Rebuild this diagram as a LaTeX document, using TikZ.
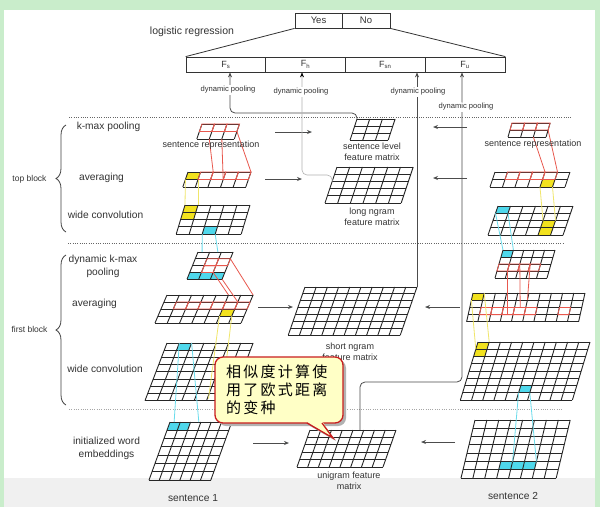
\documentclass[tikz,border=0pt]{standalone}
\usepackage{fontspec}
\setmainfont{Liberation Sans}
\newfontfamily\cjkfont[LetterSpace=15]{Noto Sans CJK SC}
\usetikzlibrary{arrows.meta,decorations.pathreplacing,calc}
\definecolor{ycell}{HTML}{F2E21E}
\definecolor{ccell}{HTML}{4FD8EC}
\definecolor{rline}{HTML}{E8584E}
\definecolor{yline}{HTML}{F0E66A}
\definecolor{cline}{HTML}{6ADCEC}
\definecolor{bgreen}{HTML}{C9EDCB}
\definecolor{callfill}{HTML}{FFFFC6}
\definecolor{callrim}{HTML}{C81E1E}
\definecolor{txt}{HTML}{333333}
\newcommand\mkgrid[8]{%
  \foreach \i in {0,...,#4}{\foreach \j in {0,...,#5}{%
    \coordinate (#1-\i-\j) at ({#2+\i*#6-\j*#8},{#3+\j*#7});}}}
\newcommand\glines[3]{%
  \foreach \i in {0,...,#2}{\draw[gridl] (#1-\i-0) -- (#1-\i-#3);}%
  \foreach \j in {0,...,#3}{\draw[gridl] (#1-0-\j) -- (#1-#2-\j);}}
\newcommand\gcell[4]{%
  \pgfmathtruncatemacro\gIa{#3+1}\pgfmathtruncatemacro\gJa{#4+1}%
  \fill[#1] (#2-#3-#4) -- (#2-\gIa-#4) -- (#2-\gIa-\gJa) -- (#2-#3-\gJa) -- cycle;}
\newcommand\rcell[3]{%
  \pgfmathtruncatemacro\gIa{#2+1}\pgfmathtruncatemacro\gJa{#3+1}%
  \draw[redl] (#1-#2-#3) -- (#1-\gIa-#3) -- (#1-\gIa-\gJa) -- (#1-#2-\gJa) -- cycle;}
\tikzset{
  gridl/.style={draw=black!85, line width=0.9pt},
  redl/.style={draw=rline, line width=0.8pt},
  yl/.style={draw=yline, line width=0.8pt},
  cl/.style={draw=cline, line width=0.8pt},
  lab/.style={font=\fontsize{10.2}{13}\selectfont, text=txt, inner sep=0pt},
  labs/.style={font=\fontsize{8.5}{10}\selectfont, text=txt, inner sep=0pt},
  mid/.style={font=\fontsize{9}{11}\selectfont, text=txt, inner sep=0pt, align=center},
  dpl/.style={font=\fontsize{7.6}{9}\selectfont, text=txt, fill=white, inner sep=1pt},
  fbox/.style={draw=black!80, line width=0.8pt, minimum width=79.75pt, minimum height=15pt, inner sep=0pt, font=\fontsize{9}{10}\selectfont, text=txt},
  ynbox/.style={draw=black!80, line width=0.8pt, minimum height=15pt, inner sep=0pt, font=\fontsize{9.5}{10}\selectfont, text=txt},
  gar/.style={draw=black!70, line width=1pt, -{Stealth[length=5pt,width=4pt,fill=cline!50!gray]}},
  pool/.style={draw=black!70, line width=0.8pt, rounded corners=5pt, -{Stealth[length=5pt,width=4pt,fill=black]}},
  poolh/.style={draw=black!30, line width=0.6pt, rounded corners=5pt, -{Stealth[length=5pt,width=4pt,fill=black,color=black]}},
  dotl/.style={draw=black!60, line width=0.8pt, dash pattern=on 1pt off 1.3pt},
  brc/.style={draw=black!75, line width=0.8pt, decorate, decoration={brace, amplitude=10pt}},
}
\begin{document}
\begin{tikzpicture}[x=1pt,y=-1pt]
\useasboundingbox (0,0) rectangle (600,507);
% background
\fill[bgreen] (0,0) rectangle (600,507);
\fill[white] (4,10) rectangle (595,507);
\fill[black!6] (4,478) rectangle (595,507);
% separators
\draw[dotl] (69,117) -- (572,117);
\draw[dotl] (68,243) -- (563,243);
\draw[dotl, draw=black!35] (69,409) -- (563,409);
% ---------- top: logistic regression ----------
\node[ynbox, minimum width=47pt] (yes) at (318.5,20.5) {Yes};
\node[ynbox, minimum width=48pt] (no) at (366,20.5) {No};
\node[lab, font=\fontsize{10.5}{12}\selectfont] (lr) at (192,32) {logistic regression};
\node[fbox] (fs) at (225.9,64.5) {F\textsubscript{s}};
\node[fbox] (fh) at (305.6,64.5) {F\textsubscript{h}};
\node[fbox] (fsn) at (385.4,64.5) {F\textsubscript{sn}};
\node[fbox] (fu) at (465.1,64.5) {F\textsubscript{u}};
\draw[black!80, line width=0.8pt] (yes.south west) -- (fs.north west);
\draw[black!80, line width=0.8pt] (no.south east) -- (fu.north east);
% ---------- sentence 1 column ----------
\mkgrid{S1K}{202}{124}{3}{2}{12.5}{7.5}{2.6}
\glines{S1K}{3}{2}
\foreach \c in {0,1,2}{\rcell{S1K}{\c}{0}}
\mkgrid{S1A}{188}{172}{5}{2}{12.6}{7.5}{2.6}
\gcell{ycell}{S1A}{0}{0}
\glines{S1A}{5}{2}
\foreach \c in {1,...,4}{\rcell{S1A}{\c}{0}}
\mkgrid{S1C}{185}{205}{5}{4}{13}{7.3}{2.2}
\gcell{ycell}{S1C}{0}{0}\gcell{ycell}{S1C}{0}{1}\gcell{ccell}{S1C}{2}{3}
\glines{S1C}{5}{4}
\mkgrid{S1D}{198}{252}{3}{4}{11.7}{6.8}{2.75}
\foreach \c in {0,1,2}{\gcell{ccell}{S1D}{\c}{3}}
\glines{S1D}{3}{4}
\rcell{S1D}{1}{1}\rcell{S1D}{2}{1}\rcell{S1D}{1}{2}
\mkgrid{S1E}{167}{295}{7}{4}{12.3}{7}{3}
\gcell{ycell}{S1E}{5}{2}
\glines{S1E}{7}{4}
\foreach \c in {1,...,6}{\rcell{S1E}{\c}{1}}
\mkgrid{S1F}{167}{343}{7}{8}{12.3}{7.2}{2.75}
\gcell{ccell}{S1F}{1}{0}
\glines{S1F}{7}{8}
\mkgrid{S1G}{170}{422}{6}{7}{10.3}{8.3}{3}
\gcell{ccell}{S1G}{0}{0}\gcell{ccell}{S1G}{1}{0}
\glines{S1G}{6}{7}
% ---------- middle column ----------
\mkgrid{SL}{357}{119}{3}{3}{12.7}{7}{2.3}
\glines{SL}{3}{3}
\mkgrid{LN}{337}{167}{6}{5}{12.7}{7.2}{2.4}
\glines{LN}{6}{5}
\mkgrid{SN}{305}{287}{10}{7}{11.2}{6.9}{2.4}
\glines{SN}{10}{7}
\mkgrid{UN}{310}{430}{8}{5}{10.75}{7.4}{2.6}
\glines{UN}{8}{5}
% ---------- sentence 2 column ----------
\mkgrid{S2K}{512}{123}{3}{2}{12.7}{7}{2}
\glines{S2K}{3}{2}
\foreach \c in {0,1,2}{\rcell{S2K}{\c}{0}}
\mkgrid{S2A}{495}{172}{6}{2}{12.5}{7.5}{2.5}
\gcell{ycell}{S2A}{4}{1}
\glines{S2A}{6}{2}
\foreach \c in {1,...,4}{\rcell{S2A}{\c}{0}}
\mkgrid{S2C}{498}{206}{6}{4}{12.5}{7.3}{2.5}
\gcell{ccell}{S2C}{0}{0}\gcell{ycell}{S2C}{4}{2}\gcell{ycell}{S2C}{4}{3}
\glines{S2C}{6}{4}
\mkgrid{S2D}{503}{250}{5}{4}{10.4}{7}{2}
\gcell{ccell}{S2D}{0}{0}
\glines{S2D}{5}{4}
\foreach \c in {0,...,3}{\rcell{S2D}{\c}{2}}
\mkgrid{S2E}{473}{293}{10}{4}{11.2}{7.2}{1.6}
\gcell{ycell}{S2E}{0}{0}
\glines{S2E}{10}{4}
\foreach \c in {1,...,5,8}{\rcell{S2E}{\c}{2}}
\mkgrid{S2F}{478}{342}{10}{8}{11.2}{7.25}{2.2}
\gcell{ycell}{S2F}{0}{0}\gcell{ycell}{S2F}{0}{1}\gcell{ccell}{S2F}{5}{6}
\glines{S2F}{10}{8}
\mkgrid{S2G}{475}{420}{8}{7}{11.9}{8.3}{2}
\foreach \c in {3,4,5}{\gcell{ccell}{S2G}{\c}{5}}
\glines{S2G}{8}{7}
% ---------- linking lines ----------
\draw[redl] (S1K-1-2) -- (S1A-2-0);
\draw[redl] (S1K-2-2) -- (S1A-3-1);
\draw[redl] (S1K-3-1) -- (S1A-5-0);
\draw[redl] (S2K-2-2) -- (S2A-4-0);
\draw[redl] (S2K-3-1) -- (S2A-5-0);
\draw[redl] (S1D-3-1) -- (S1E-7-0);
\draw[redl] (S1D-2-3) -- (S1E-5-0);
\draw[redl] (S1D-3-4) -- (S1E-6-1);
\draw[redl] (S2D-1-3) -- ($(S2E-3-3)!0.5!(S2E-4-3)$);
\draw[redl] (S2D-2-2) -- ($(S2E-4-2)!0.5!(S2E-5-2)$);
\draw[redl] (S2D-3-2) -- (S2E-5-1);
\draw[yl] (S1A-0-1) -- (S1C-0-0);
\draw[yl] (S1A-1-1) -- (S1C-1-0);
\draw[yl] (S1E-5-3) -- ($(S1F-5-8)+(2,-2)$);
\draw[yl] (S1E-6-3) -- ($(S1F-6-8)+(3,-2)$);
\draw[yl] (S2A-4-2) -- (S2C-4-2);
\draw[yl] (S2A-5-2) -- (S2C-5-2);
\draw[yl] (S2E-0-1) -- (S2F-0-1);
\draw[yl] (S2E-1-0) -- (S2F-1-0);
\draw[cl] (S1C-2-4) -- ($(S1D-0-0)!0.35!(S1D-1-0)$);
\draw[cl] (S1C-3-4) -- ($(S1D-1-0)!0.7!(S1D-2-0)$);
\draw[cl] (S1F-1-0) -- ($(S1G-0-0)!0.4!(S1G-1-0)$);
\draw[cl] (S1F-2-0) -- ($(S1G-2-0)!0.8!(S1G-3-0)$);
\draw[cl] (S2C-0-1) -- (S2D-0-0);
\draw[cl] (S2C-1-1) -- (S2D-1-0);
\draw[cl] (S2F-5-7) -- (S2G-4-5);
\draw[cl] (S2F-6-7) -- (S2G-6-5);
% ---------- arrows between columns ----------
\coordinate (a1s) at (275,132); \coordinate (a1e) at (312,132);
\coordinate (a2s) at (265,179); \coordinate (a2e) at (302,179);
\coordinate (a3s) at (467,127); \coordinate (a3e) at (433,127);
\coordinate (a4s) at (467,178); \coordinate (a4e) at (433,178);
\coordinate (a5s) at (258,307); \coordinate (a5e) at (293,307);
\coordinate (a6s) at (460,307); \coordinate (a6e) at (425,307);
\coordinate (a7s) at (253,443); \coordinate (a7e) at (289,443);
\coordinate (a8s) at (455,442); \coordinate (a8e) at (421,442);
\foreach \k in {1,...,8}{\draw[gar] (a\k s) -- (a\k e);}
% ---------- dynamic pooling lines ----------
\coordinate (fsx) at (230,113);
\coordinate (fhx) at (302,175);
\coordinate (fux) at (462,382);
\coordinate (unx) at ($(UN-4-0)!0.65!(UN-5-0)$);
\draw[pool] (SL-0-0) |- (fsx) -- (fsx |- fs.south);
\draw[poolh] (LN-0-2) |- (fhx) -- (fhx |- fh.south);
\draw[pool] (SN-10-0) -- (SN-10-0 |- fsn.south);
\draw[pool] (unx) |- (fux) -- (fux |- fu.south);
\node[dpl] (dp1) at (228,90) {dynamic pooling};
\node[dpl] (dp2) at (301,92) {dynamic pooling};
\node[dpl] (dp3) at (418,92) {dynamic pooling};
\node[dpl] (dp4) at (466,107) {dynamic pooling};
% ---------- left labels ----------
\node[lab] (kmax1) at (108.5,127) {k-max pooling};
\node[lab] (avg1) at (101.5,178) {averaging};
\node[lab] (wc1) at (105.5,215) {wide convolution};
\node[labs] (topb) at (29.5,179) {top block};
\node[lab, align=center] (dkm) at (103,266.5) {dynamic k-max\\pooling};
\node[lab] (avg2) at (94.5,304) {averaging};
\node[labs] (firstb) at (29.5,329) {first block};
\node[lab] (wc2) at (105,369) {wide convolution};
\node[lab, align=center] (iwe) at (106.5,448.5) {initialized word\\embeddings};
\draw[brc] (66,232) -- (66,125);
\draw[brc] (66,405) -- (66,255);
% ---------- matrix labels ----------
\node[mid] (srep1) at (211,145) {sentence representation};
\node[mid] (srep2) at (533,144) {sentence representation};
\node[mid] (sll) at (372,151.5) {sentence level\\feature matrix};
\node[mid] (lnl) at (372,217) {long ngram\\feature matrix};
\node[mid] (snl) at (350,352) {short ngram\\feature matrix};
\node[mid] (unl) at (349,481) {unigram feature\\matrix};
\node[lab] (s1) at (193,498) {sentence 1};
\node[lab] (s2) at (513,496) {sentence 2};
% ---------- callout ----------
\fill[black!30, rounded corners=8pt] (218,360) rectangle (346,426);
\fill[black!30] (310,426) -- (336,441) -- (325,426) -- cycle;
\draw[callrim, fill=callfill, line width=1.3pt, rounded corners=8pt] (215,357) rectangle (343,423);
\fill[callfill] (306.5,421.6) -- (333,438) -- (322.5,421.6) -- cycle;
\draw[callrim, line width=1.3pt, line join=miter] (307,423) -- (333,438) -- (322,423);
\node[anchor=north west, inner sep=0pt, align=left, font=\cjkfont\fontsize{15}{18}\selectfont] (note) at (226,365) {相似度计算使\\用了欧式距离\\的变种};
\end{tikzpicture}
\end{document}
